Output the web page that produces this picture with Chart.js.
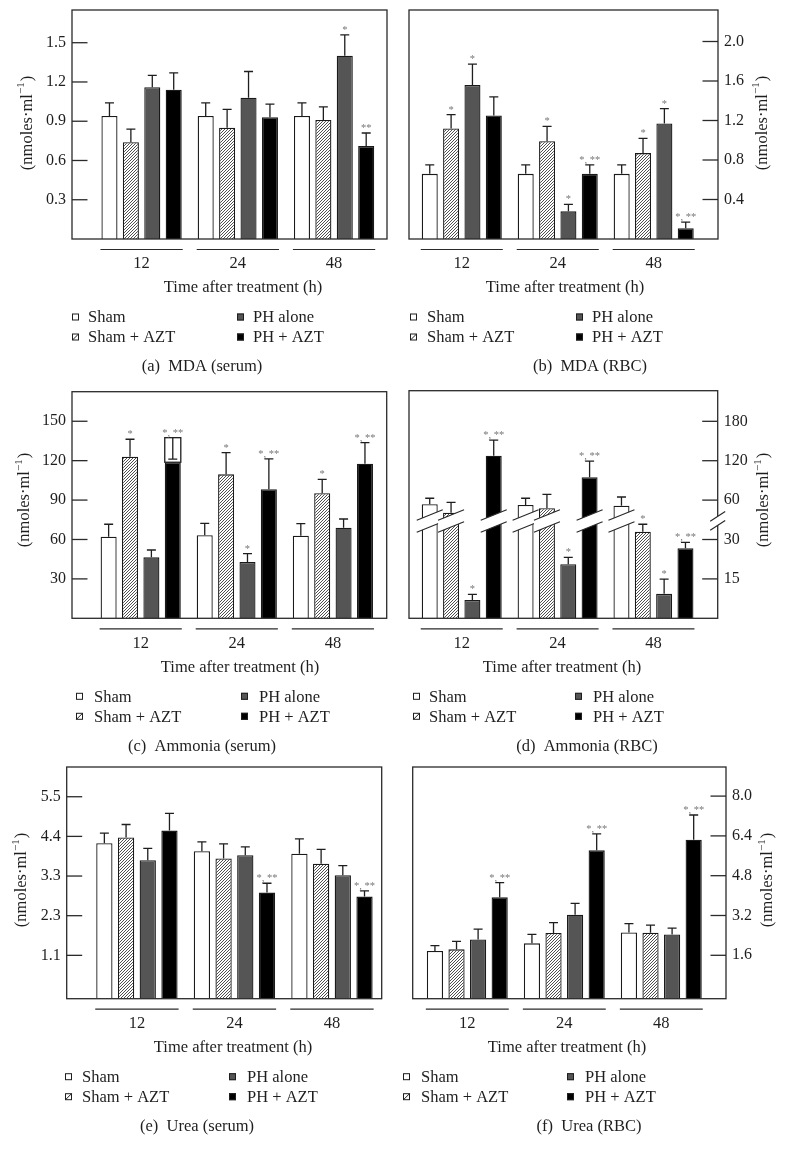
<!DOCTYPE html>
<html lang="en">
<head>
<meta charset="utf-8">
<title>MDA, ammonia and urea after treatment</title>
<script src="https://cdn.jsdelivr.net/npm/chart.js@4.4.1/dist/chart.umd.min.js"></script>
<style>
    body { margin: 0; background: #fff; }
    #page { position: relative; width: 787px; height: 1159px; overflow: hidden; }
    #page canvas { position: absolute; }
</style>
</head>
<body>
<div id="page">
    <canvas id="panel-a" width="393" height="378" style="left:0;top:0"></canvas>
    <canvas id="panel-b" width="394" height="378" style="left:393px;top:0"></canvas>
    <canvas id="panel-c" width="393" height="384" style="left:0;top:378px"></canvas>
    <canvas id="panel-d" width="394" height="384" style="left:393px;top:378px"></canvas>
    <canvas id="panel-e" width="393" height="397" style="left:0;top:762px"></canvas>
    <canvas id="panel-f" width="394" height="397" style="left:393px;top:762px"></canvas>
</div>
<script>
// ==================== DATA ====================
// rows follow seriesNames, columns follow groups (hours)
const groups = ['12', '24', '48'];
const seriesNames = ['Sham', 'Sham + AZT', 'PH alone', 'PH + AZT'];

const mdaSerumMean = [[0.94, 0.94, 0.94], [0.74, 0.85, 0.91], [1.16, 1.08, 1.40], [1.14, 0.93, 0.71]];
const mdaSerumErr = [[0.10, 0.10, 0.10], [0.10, 0.14, 0.10], [0.09, 0.20, 0.16], [0.13, 0.10, 0.10]];
const mdaSerumMarks = [['', '', ''], ['', '', ''], ['', '', '*'], ['', '', '**']];
const mdaSerumTicks = [0.3, 0.6, 0.9, 1.2, 1.5];
const mdaSerumTickLabels = ['0.3', '0.6', '0.9', '1.2', '1.5'];

const mdaRbcMean = [[0.66, 0.66, 0.66], [1.12, 0.99, 0.87], [1.56, 0.28, 1.17], [1.25, 0.66, 0.11]];
const mdaRbcErr = [[0.09, 0.09, 0.09], [0.14, 0.15, 0.15], [0.21, 0.07, 0.15], [0.19, 0.09, 0.06]];
const mdaRbcMarks = [['', '', ''], ['*', '*', '*'], ['*', '*', '*'], ['', '*, **', '*, **']];
const mdaRbcTicks = [0.4, 0.8, 1.2, 1.6, 2.0];
const mdaRbcTickLabels = ['0.4', '0.8', '1.2', '1.6', '2.0'];

const ammoniaSerumMean = [[62.1, 63.2, 62.9], [123.0, 109.6, 95.2], [46.4, 42.9, 69.0], [118.8, 98.2, 117.7]];
const ammoniaSerumErr = [[9.5, 9.1, 9.1], [13.3, 16.5, 10.6], [5.6, 6.3, 6.6], [18.7, 23.1, 16.0]];
const ammoniaSerumMarks = [['', '', ''], ['*', '*', '*'], ['', '*', ''], ['*, **', '*, **', '*, **']];
const ammoniaSerumTicks = [30, 60, 90, 120, 150];
const ammoniaSerumTickLabels = ['30', '60', '90', '120', '150'];
// the PH + AZT bar at 12 h is printed with an open box and a downward whisker
const ammoniaSerumBoxed = [{ series: 3, group: 0, low: 121.1 }];

const ammoniaRbcMean = [[56.8, 56.3, 55.7], [50.4, 53.8, 35.9], [7.0, 20.6, 9.3], [127.6, 94.7, 26.7]];
const ammoniaRbcErr = [[6.0, 6.5, 9.0], [7.9, 15.0, 5.7], [2.1, 2.6, 5.6], [23.9, 24.8, 2.2]];
const ammoniaRbcMarks = [['', '', ''], ['', '', '*'], ['*', '*', '*'], ['*, **', '*, **', '*, **']];
const ammoniaRbcTicks = [15, 30, 60, 120, 180];
const ammoniaRbcTickLabels = ['15', '30', '60', '120', '180'];

const ureaSerumMean = [[4.21, 3.99, 3.92], [4.37, 3.79, 3.64], [3.74, 3.88, 3.32], [4.56, 2.84, 2.73]];
const ureaSerumErr = [[0.28, 0.26, 0.41], [0.36, 0.40, 0.40], [0.33, 0.23, 0.27], [0.48, 0.26, 0.16]];
const ureaSerumMarks = [['', '', ''], ['', '', ''], ['', '', ''], ['', '*, **', '*, **']];
const ureaSerumTicks = [1.1, 2.2, 3.3, 4.4, 5.5];
const ureaSerumTickLabels = ['1.1', '2.3', '3.3', '4.4', '5.5'];

const ureaRbcMean = [[1.77, 2.08, 2.52], [1.84, 2.50, 2.51], [2.24, 3.23, 2.44], [3.93, 5.82, 6.25]];
const ureaRbcErr = [[0.22, 0.36, 0.35], [0.32, 0.41, 0.30], [0.41, 0.46, 0.25], [0.59, 0.66, 0.99]];
const ureaRbcMarks = [['', '', ''], ['', '', ''], ['', '', ''], ['*, **', '*, **', '*, **']];
const ureaRbcTicks = [1.6, 3.2, 4.8, 6.4, 8.0];
const ureaRbcTickLabels = ['1.6', '3.2', '4.8', '6.4', '8.0'];

// ==================== STYLE ====================
const serif = "'Liberation Serif', 'Times New Roman', serif";
const ink = '#1e1e1e';
const fills = ['#ffffff', null, '#555555', '#000000'];

// broken axis for ammonia (RBC): 0-30 and 60-180 share the same tick spacing
function brokenAxis(v) {
    if (v <= 30) return v / 15;
    if (v <= 60) return 2 + (v - 30) / 30;
    return 3 + (v - 60) / 60;
}

const panels = [
    { id: 'panel-a', mean: mdaSerumMean, err: mdaSerumErr, marks: mdaSerumMarks, ticks: mdaSerumTicks, tickLabels: mdaSerumTickLabels,
      side: 'left', w: 393, h: 378, frame: [72, 10, 387, 239], yRange: [0, 1.75], xRange: [-0.723, 2.55],
      caption: '(a)  MDA (serum)', captionX: 202, xTitleX: 243, yTitle: [27.5, 123], legend: [72, 88, 237, 253] },
    { id: 'panel-b', mean: mdaRbcMean, err: mdaRbcErr, marks: mdaRbcMarks, ticks: mdaRbcTicks, tickLabels: mdaRbcTickLabels,
      side: 'right', w: 394, h: 378, frame: [16, 10, 325, 239], yRange: [0, 2.319], xRange: [-0.55, 2.67],
      caption: '(b)  MDA (RBC)', captionX: 197, xTitleX: 172, yTitle: [369.5, 123], legend: [17, 34, 183, 199] },
    { id: 'panel-c', mean: ammoniaSerumMean, err: ammoniaSerumErr, marks: ammoniaSerumMarks, ticks: ammoniaSerumTicks, tickLabels: ammoniaSerumTickLabels,
      boxed: ammoniaSerumBoxed,
      side: 'left', w: 393, h: 384, frame: [72, 13.7, 386.7, 240.3], yRange: [0, 172.5], xRange: [-0.715, 2.56],
      caption: '(c)  Ammonia (serum)', captionX: 202, xTitleX: 240, yTitle: [25, 122], legend: [76, 94, 241, 259] },
    { id: 'panel-d', mean: ammoniaRbcMean, err: ammoniaRbcErr, marks: ammoniaRbcMarks, ticks: ammoniaRbcTicks, tickLabels: ammoniaRbcTickLabels,
      map: brokenAxis, breakAt: 2.47,
      side: 'right', w: 394, h: 384, frame: [16, 12.7, 324.7, 240.3], yRange: [0, 5.777], xRange: [-0.55, 2.67],
      caption: '(d)  Ammonia (RBC)', captionX: 194, xTitleX: 169, yTitle: [371, 122], legend: [20, 36, 182, 200] },
    { id: 'panel-e', mean: ureaSerumMean, err: ureaSerumErr, marks: ureaSerumMarks, ticks: ureaSerumTicks, tickLabels: ureaSerumTickLabels,
      side: 'left', w: 393, h: 397, frame: [66.7, 5, 381.7, 236.7], yRange: [-0.103, 6.325], xRange: [-0.72, 2.51],
      caption: '(e)  Urea (serum)', captionX: 197, xTitleX: 233, yTitle: [21.7, 118], legend: [65, 82, 229, 247] },
    { id: 'panel-f', mean: ureaRbcMean, err: ureaRbcErr, marks: ureaRbcMarks, ticks: ureaRbcTicks, tickLabels: ureaRbcTickLabels,
      side: 'right', w: 394, h: 397, frame: [19.7, 5, 333, 236.7], yRange: [-0.145, 9.17], xRange: [-0.563, 2.667],
      caption: '(f)  Urea (RBC)', captionX: 196, xTitleX: 174, yTitle: [375, 118], legend: [10, 28, 174, 192] }
];

// ==================== HELPERS ====================
function hatchPattern(ctx) {
    const c = document.createElement('canvas');
    c.width = c.height = 3;
    const g = c.getContext('2d');
    g.fillStyle = '#fff';
    g.fillRect(0, 0, 3, 3);
    g.strokeStyle = '#3c3c3c';
    g.lineWidth = 0.9;
    g.beginPath();
    g.moveTo(0, 3); g.lineTo(3, 0);
    g.moveTo(-1, 1); g.lineTo(1, -1);
    g.moveTo(2, 4); g.lineTo(4, 2);
    g.stroke();
    return ctx.createPattern(c, 'repeat');
}

function drawBreak(ctx, xc, hw, yc, gap, k) {
    const l = xc - hw, r = xc + hw, dy = k * hw;
    ctx.fillStyle = '#fff';
    ctx.beginPath();
    ctx.moveTo(l, yc - gap + dy); ctx.lineTo(r, yc - gap - dy);
    ctx.lineTo(r, yc + gap - dy); ctx.lineTo(l, yc + gap + dy);
    ctx.closePath();
    ctx.fill();
    ctx.beginPath();
    ctx.moveTo(l, yc - gap + dy); ctx.lineTo(r, yc - gap - dy);
    ctx.moveTo(l, yc + gap + dy); ctx.lineTo(r, yc + gap - dy);
    ctx.stroke();
}

function drawYTitle(ctx, cx, cy) {
    const big = '16.5px ' + serif, small = '11px ' + serif;
    ctx.save();
    ctx.translate(cx, cy);
    ctx.rotate(-Math.PI / 2);
    ctx.fillStyle = ink;
    ctx.textBaseline = 'middle';
    ctx.textAlign = 'left';
    ctx.font = big;
    const w1 = ctx.measureText('(nmoles·ml').width;
    const w3 = ctx.measureText(')').width;
    ctx.font = small;
    const w2 = ctx.measureText('−1').width;
    const x0 = -(w1 + w2 + w3 + 1) / 2;
    ctx.font = big;
    ctx.fillText('(nmoles·ml', x0, 0);
    ctx.font = small;
    ctx.fillText('−1', x0 + w1, -6);
    ctx.font = big;
    ctx.fillText(')', x0 + w1 + w2 + 1, 0);
    ctx.restore();
}

function legendIcon(ctx, s, x, y) {
    ctx.lineWidth = 1;
    ctx.strokeStyle = ink;
    ctx.fillStyle = s === 2 ? '#555' : s === 3 ? '#000' : '#fff';
    ctx.fillRect(x, y, 7, 7);
    ctx.strokeRect(x + 0.5, y + 0.5, 6, 6);
    if (s === 1) {
        ctx.beginPath();
        ctx.moveTo(x + 0.5, y + 6.5);
        ctx.lineTo(x + 6.5, y + 0.5);
        ctx.stroke();
    }
}

// ==================== PANELS ====================
function buildPanel(p) {
    const canvas = document.getElementById(p.id);
    const ctx = canvas.getContext('2d');
    const map = p.map || (v => v);
    const hatch = hatchPattern(ctx);

    const datasets = p.mean.map((row, s) => ({
        label: seriesNames[s],
        data: row.map((v, i) => ({ x: i, y: map(v) })),
        backgroundColor: s === 1 ? hatch : fills[s],
        borderColor: '#1a1a1a',
        borderWidth: 1.3,
        barPercentage: 0.75,
        categoryPercentage: 0.89,
        base: p.yRange[0]
    }));

    const decor = {
        id: 'decor',
        afterDatasetsDraw(chart) {
            const { ctx, chartArea: a, scales: { y } } = chart;
            ctx.save();
            ctx.strokeStyle = '#2a2a2a';
            ctx.lineWidth = 1.3;
            ctx.strokeRect(a.left, a.top, a.right - a.left, a.bottom - a.top);

            // tick marks point into the plot
            p.ticks.forEach(v => {
                const ty = y.getPixelForValue(map(v));
                ctx.beginPath();
                if (p.side === 'left') { ctx.moveTo(a.left, ty); ctx.lineTo(a.left + 15.5, ty); }
                else { ctx.moveTo(a.right - 15.5, ty); ctx.lineTo(a.right, ty); }
                ctx.stroke();
            });

            if (p.breakAt) {
                const yc = y.getPixelForValue(p.breakAt);
                ctx.lineWidth = 1.2;
                p.mean.forEach((row, s) => {
                    chart.getDatasetMeta(s).data.forEach(bar => {
                        if (bar.y < yc - 6) drawBreak(ctx, bar.x, bar.width / 2 + 5, yc, 6, 0.4);
                    });
                });
                drawBreak(ctx, a.right, 7.5, yc, 4.5, 0.65);
            }

            // error bars and significance marks
            ctx.lineWidth = 1.3;
            ctx.strokeStyle = '#1e1e1e';
            p.mean.forEach((row, s) => {
                const meta = chart.getDatasetMeta(s);
                row.forEach((v, i) => {
                    const bar = meta.data[i];
                    const top = y.getPixelForValue(map(v + p.err[s][i]));
                    const box = (p.boxed || []).find(b => b.series === s && b.group === i);
                    ctx.beginPath();
                    if (box) {
                        const low = y.getPixelForValue(map(box.low));
                        ctx.fillStyle = '#fff';
                        ctx.fillRect(bar.x - bar.width / 2, top, bar.width, bar.y - top);
                        ctx.strokeRect(bar.x - bar.width / 2, top, bar.width, bar.y - top);
                        ctx.moveTo(bar.x, top); ctx.lineTo(bar.x, low);
                        ctx.moveTo(bar.x - 4.5, low); ctx.lineTo(bar.x + 4.5, low);
                    } else {
                        ctx.moveTo(bar.x, bar.y); ctx.lineTo(bar.x, top);
                        ctx.moveTo(bar.x - 4.5, top); ctx.lineTo(bar.x + 4.5, top);
                    }
                    ctx.stroke();
                    const mark = p.marks[s][i];
                    if (mark) {
                        ctx.fillStyle = '#777';
                        ctx.font = '10.5px ' + serif;
                        ctx.textAlign = 'center';
                        ctx.textBaseline = 'alphabetic';
                        ctx.fillText(mark, bar.x, top - 2);
                    }
                });
            });
            ctx.restore();
        },
        afterDraw(chart) {
            const { ctx, scales: { x } } = chart;
            const fb = p.frame[3];
            ctx.save();
            ctx.fillStyle = ink;
            ctx.strokeStyle = '#2a2a2a';
            ctx.lineWidth = 1.2;
            ctx.font = '16.5px ' + serif;
            ctx.textAlign = 'center';
            ctx.textBaseline = 'middle';

            const first = chart.getDatasetMeta(0).data;
            const last = chart.getDatasetMeta(p.mean.length - 1).data;
            groups.forEach((g, i) => {
                const l = first[i].x - first[i].width / 2 - 1;
                const r = last[i].x + last[i].width / 2 + 1;
                ctx.beginPath();
                ctx.moveTo(l, fb + 10.5); ctx.lineTo(r, fb + 10.5);
                ctx.stroke();
                ctx.fillText(g, x.getPixelForValue(i), fb + 25);
            });
            ctx.fillText('Time after treatment (h)', p.xTitleX, fb + 49);
            ctx.fillText(p.caption, p.captionX, fb + 128);

            const [b1, t1, b2, t2] = p.legend;
            const slots = [[b1, t1, fb + 79], [b1, t1, fb + 99], [b2, t2, fb + 79], [b2, t2, fb + 99]];
            seriesNames.forEach((name, s) => {
                const [bx, tx, ry] = slots[s];
                legendIcon(ctx, s, bx, ry - 4.5);
                ctx.fillStyle = ink;
                ctx.textAlign = 'left';
                ctx.fillText(name, tx, ry);
            });

            drawYTitle(ctx, p.yTitle[0], p.yTitle[1]);
            ctx.restore();
        }
    };

    return new Chart(canvas, {
        type: 'bar',
        data: { datasets },
        options: {
            responsive: false,
            animation: false,
            devicePixelRatio: 1,
            layout: {
                padding: p.side === 'left'
                    ? { left: 0, right: p.w - p.frame[2], top: p.frame[1], bottom: p.h - p.frame[3] }
                    : { left: p.frame[0], right: 0, top: p.frame[1], bottom: p.h - p.frame[3] }
            },
            plugins: { legend: { display: false }, tooltip: { enabled: false } },
            scales: {
                x: {
                    type: 'linear', display: false, offset: false,
                    min: p.xRange[0], max: p.xRange[1],
                    afterBuildTicks: s => { s.ticks = groups.map((g, i) => ({ value: i })); }
                },
                y: {
                    position: p.side,
                    min: p.yRange[0], max: p.yRange[1],
                    grid: { display: false, drawTicks: false },
                    border: { display: false },
                    afterBuildTicks: s => { s.ticks = p.ticks.map(v => ({ value: map(v) })); },
                    afterFit: s => {
                        s.width = p.side === 'left' ? p.frame[0] : p.w - p.frame[2];
                        s.paddingTop = 0;
                        s.paddingBottom = 0;
                    },
                    ticks: {
                        autoSkip: false, padding: 6, color: ink,
                        font: { family: serif, size: 16 },
                        callback: (v, i) => p.tickLabels[i]
                    }
                }
            }
        },
        plugins: [decor]
    });
}

panels.forEach(buildPanel);
</script>
</body>
</html>
